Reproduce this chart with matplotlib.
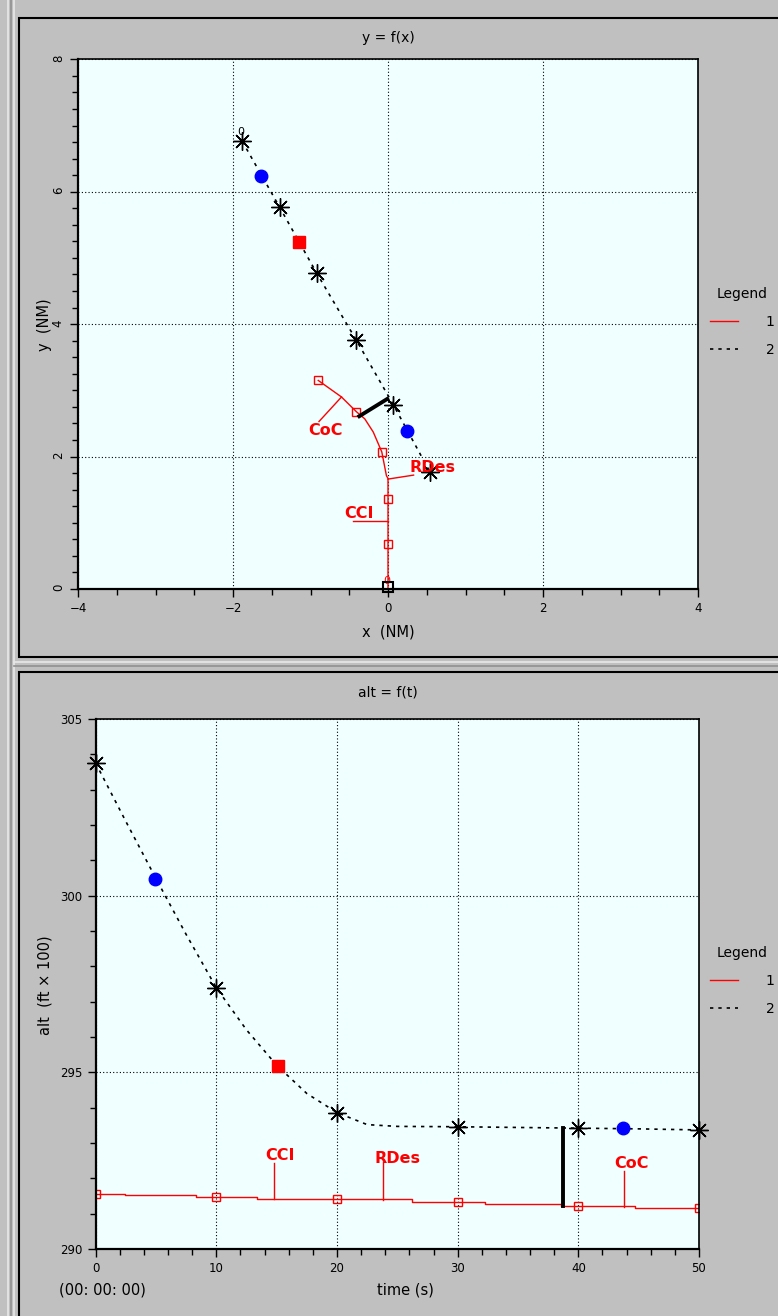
import numpy as np
import matplotlib
matplotlib.use("Agg")
import matplotlib.pyplot as plt
from matplotlib.patches import Rectangle
from matplotlib.lines import Line2D
from matplotlib.ticker import MultipleLocator

# ---- top chart: y = f(x) ----
track2X = [-1.88, -1.40, -0.92, -0.41, 0.07, 0.54]
track2Y = [6.76, 5.77, 4.77, 3.76, 2.78, 1.77]
blueX = [-1.64, 0.24]
blueY = [6.24, 2.39]
redSqX = [-1.15]
redSqY = [5.24]

track1X = [0.0, 0.0, -0.02, -0.08, -0.19, -0.30, -0.41, -0.60, -0.90]
track1Y = [0.0, 1.67, 1.71, 2.07, 2.37, 2.57, 2.68, 2.90, 3.15]
track1SqX = [-0.90, -0.41, -0.08, 0.0, 0.0]
track1SqY = [3.15, 2.68, 2.07, 1.36, 0.68]
sepX = [-0.37, -0.01]
sepY = [2.61, 2.87]

# ---- bottom chart: alt = f(t) ----
altT = [0, 2.5, 5, 7.5, 10, 12.5, 15, 17.5, 20, 22.5, 25, 30, 35, 40, 45, 50]
altV = [303.75, 302.1, 300.48, 298.9, 297.39, 296.2, 295.2, 294.4, 293.86,
        293.52, 293.47, 293.46, 293.44, 293.42, 293.40, 293.37]
starT = [0, 10, 20, 30, 40, 50]
starV = [303.75, 297.39, 293.86, 293.46, 293.42, 293.37]
blueT = [4.9, 43.7]
blueV = [300.48, 293.42]
redT = [15.1]
redV = [295.17]

stepT = [0, 2.4, 8.3, 13.4, 26.2, 32.3, 38.6, 44.7, 50]
stepV = [291.56, 291.54, 291.48, 291.42, 291.33, 291.26, 291.21, 291.17, 291.17]
sqT = [0, 10, 20, 30, 40, 50]
sqV = [291.56, 291.48, 291.42, 291.33, 291.21, 291.17]
sepT = [38.7, 38.7]
sepV = [293.42, 291.22]

panelGrey = "#c0c0c0"
axBg = "#f0ffff"
gridStyle = dict(color="black", linestyle=(0, (1, 2)), linewidth=0.8)
starMarker = (8, 2, 0)

fig = plt.figure(figsize=(7.78, 13.16), dpi=100, facecolor=panelGrey)
W, H = 778.0, 1316.0


def px(x0, y0, x1, y1):
    return [x0 / W, 1 - y1 / H, (x1 - x0) / W, (y1 - y0) / H]


# panel frames (behind the axes)
for y0, y1 in [(18, 657), (672, 1330)]:
    fig.patches.append(Rectangle((19 / W, 1 - y1 / H), 800 / W, (y1 - y0) / H,
                                 transform=fig.transFigure, facecolor=panelGrey,
                                 edgecolor="black", linewidth=1.5, zorder=-10))
for xx, c in [(8, "#e8e8e8"), (11, "#909090"), (14, "#e8e8e8")]:
    fig.add_artist(Line2D([xx / W, xx / W], [0, 1], color=c, linewidth=1.2,
                          transform=fig.transFigure, zorder=-10))
for yy, c in [(662, "#e8e8e8"), (666, "#909090")]:
    fig.add_artist(Line2D([14 / W, 1], [1 - yy / H, 1 - yy / H], color=c,
                          linewidth=1.2, transform=fig.transFigure, zorder=-10))


def style_axes(ax):
    ax.set_facecolor(axBg)
    ax.grid(True, which="major", **gridStyle)
    ax.set_axisbelow(True)
    ax.tick_params(which="both", direction="out", top=False, right=False,
                   labelsize=8.5, width=1)
    ax.tick_params(which="major", length=6)
    ax.tick_params(which="minor", length=4)
    for s in ax.spines.values():
        s.set_linewidth(1.2)
    ax.spines["left"].set_linewidth(1.6)
    ax.spines["bottom"].set_linewidth(1.6)


# ---------------- top ----------------
ax1 = fig.add_axes(px(78, 59.3, 698, 589))
style_axes(ax1)
ax1.set_xlim(-4, 4)
ax1.set_ylim(0, 8)
ax1.xaxis.set_major_locator(MultipleLocator(2))
ax1.xaxis.set_minor_locator(MultipleLocator(0.5))
ax1.yaxis.set_major_locator(MultipleLocator(2))
ax1.yaxis.set_minor_locator(MultipleLocator(0.25))
ax1.tick_params(axis="y", labelrotation=90)

l1, = ax1.plot(track1X, track1Y, color="red", linewidth=1)
l2, = ax1.plot(track2X, track2Y, color="black", linewidth=1.2, linestyle=(0, (2, 3)))
ax1.plot(track2X, track2Y, linestyle="none", marker=starMarker, markersize=13,
         markeredgecolor="black", markeredgewidth=1, clip_on=False)
ax1.plot(track2X, track2Y, linestyle="none", marker="o", markersize=3, color="black")
ax1.plot(blueX, blueY, linestyle="none", marker="o", markersize=9, color="blue")
ax1.plot(redSqX, redSqY, linestyle="none", marker="s", markersize=8, color="red")
ax1.plot(track1SqX, track1SqY, linestyle="none", marker="s", markersize=6,
         markerfacecolor="none", markeredgecolor="red", markeredgewidth=1)
ax1.plot([0], [0.03], linestyle="none", marker="s", markersize=7, clip_on=False,
         markerfacecolor="none", markeredgecolor="black", markeredgewidth=1.5, zorder=5)
ax1.plot(sepX, sepY, color="black", linewidth=2.8)
ax1.text(-1.90, 6.83, "0", fontsize=8, ha="center", va="bottom")
ax1.text(-0.02, 0.05, "0", fontsize=8, ha="center", va="bottom", color="red")

# annotations
ax1.plot([-0.60, -0.89], [2.90, 2.53], color="red", linewidth=1)
ax1.text(-1.03, 2.50, "CoC", color="red", fontsize=11.5, fontweight="bold",
         ha="left", va="top")
ax1.plot([0.0, 0.33], [1.66, 1.72], color="red", linewidth=1)
ax1.text(0.28, 1.84, "RDes", color="red", fontsize=11.5, fontweight="bold",
         ha="left", va="center")
ax1.plot([0.0, -0.45], [1.03, 1.03], color="red", linewidth=1)
ax1.text(-0.57, 1.02, "CCI", color="red", fontsize=11.5, fontweight="bold",
         ha="left", va="bottom")

fig.text(388 / W, 1 - 38 / H, "y = f(x)", fontsize=10, ha="center", va="center")
fig.text(388 / W, 1 - 632 / H, "x  (NM)", fontsize=10.5, ha="center", va="center")
fig.text(45 / W, 1 - 325 / H, "y  (NM)", fontsize=10.5, ha="center", va="center",
         rotation=90)

legendOpts = dict(title="Legend", loc="upper left", bbox_transform=fig.transFigure,
                  frameon=False, fontsize=10, title_fontsize=10, handlelength=2.0,
                  handletextpad=2.0, labelspacing=1.0, borderaxespad=0, borderpad=0.3)
leg1 = ax1.legend([l1, l2], ["1", "2"], bbox_to_anchor=(706 / W, 1 - 283 / H),
                  **legendOpts)

# ---------------- bottom ----------------
ax2 = fig.add_axes(px(95.7, 719, 699, 1249))
style_axes(ax2)
ax2.set_xlim(0, 50)
ax2.set_ylim(290, 305)
ax2.xaxis.set_major_locator(MultipleLocator(10))
ax2.xaxis.set_minor_locator(MultipleLocator(2))
ax2.yaxis.set_major_locator(MultipleLocator(5))
ax2.yaxis.set_minor_locator(MultipleLocator(1))

m1, = ax2.plot(stepT, stepV, color="red", linewidth=1, drawstyle="steps-post")
m2, = ax2.plot(altT, altV, color="black", linewidth=1.2, linestyle=(0, (2, 3)))
ax2.plot(starT, starV, linestyle="none", marker=starMarker, markersize=13,
         markeredgecolor="black", markeredgewidth=1, clip_on=False, zorder=4)
ax2.plot(starT, starV, linestyle="none", marker="o", markersize=3, color="black",
         clip_on=False)
ax2.plot(blueT, blueV, linestyle="none", marker="o", markersize=9, color="blue")
ax2.plot(redT, redV, linestyle="none", marker="s", markersize=8, color="red")
ax2.plot(sqT, sqV, linestyle="none", marker="s", markersize=6,
         markerfacecolor="none", markeredgecolor="red", markeredgewidth=1)
ax2.plot(sepT, sepV, color="black", linewidth=2.8)

ax2.plot([14.8, 14.8], [291.42, 292.44], color="red", linewidth=1)
ax2.text(14.05, 292.42, "CCI", color="red", fontsize=11.5, fontweight="bold",
         ha="left", va="bottom")
ax2.plot([23.8, 23.8], [291.40, 292.45], color="red", linewidth=1)
ax2.text(23.1, 292.36, "RDes", color="red", fontsize=11.5, fontweight="bold",
         ha="left", va="bottom")
ax2.plot([43.8, 43.8], [291.19, 292.22], color="red", linewidth=1)
ax2.text(43.0, 292.2, "CoC", color="red", fontsize=11.5, fontweight="bold",
         ha="left", va="bottom")

fig.text(388 / W, 1 - 692 / H, "alt = f(t)", fontsize=10, ha="center", va="center")
fig.text(405 / W, 1 - 1290 / H, "time (s)", fontsize=10.5, ha="center", va="center")
fig.text(102 / W, 1 - 1290 / H, "(00: 00: 00)", fontsize=10.5, ha="center", va="center")
fig.text(45 / W, 1 - 985 / H, "alt  (ft \u00d7 100)", fontsize=10.5, ha="center",
         va="center", rotation=90)

leg2 = ax2.legend([m1, m2], ["1", "2"], bbox_to_anchor=(706 / W, 1 - 942 / H),
                  **legendOpts)

fig.savefig("out.png", dpi=100, facecolor=panelGrey)
